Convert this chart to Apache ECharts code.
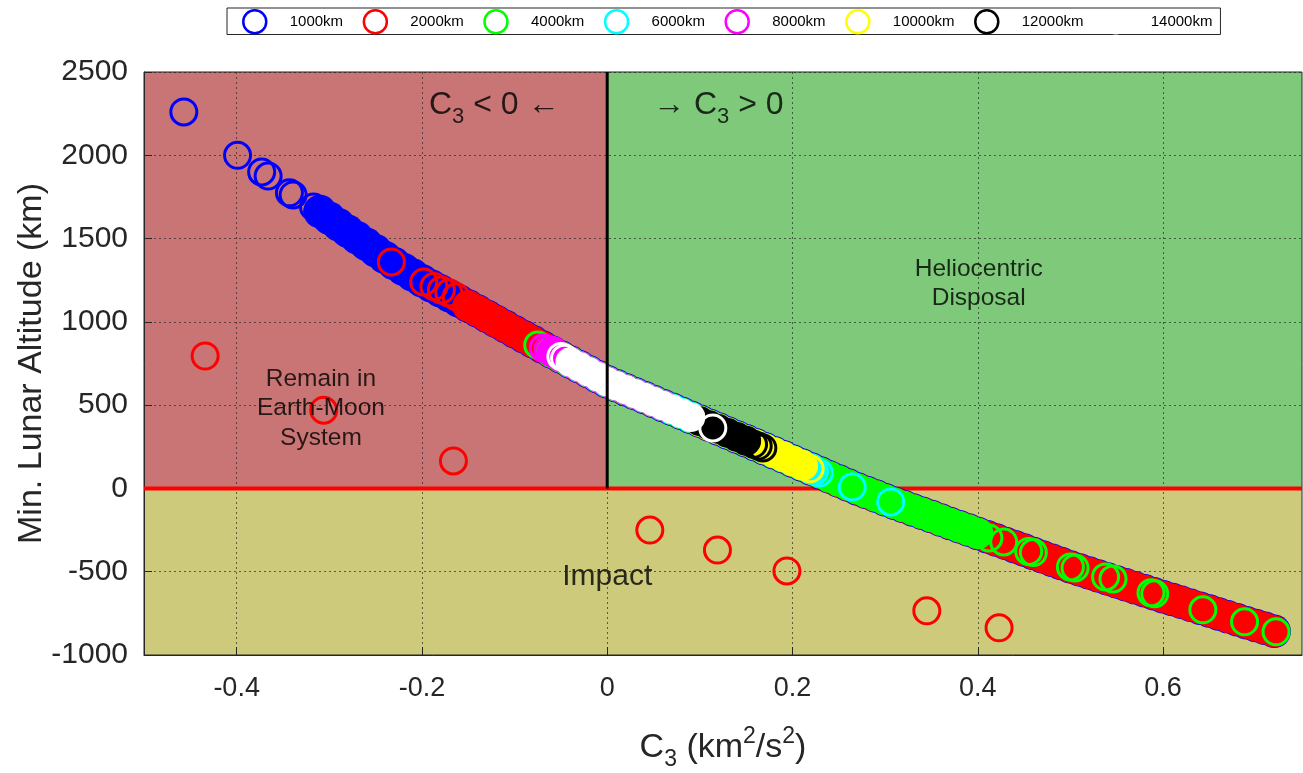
<!DOCTYPE html>
<html>
<head>
<meta charset="utf-8">
<script src="https://cdn.jsdelivr.net/npm/echarts@6/dist/echarts.min.js"></script>
<style>
  html, body { margin: 0; padding: 0; background: #ffffff; }
  #chart { width: 1303px; height: 773px; }
</style>
</head>
<body>
<div id="chart"></div>
<script>
// ---- axis ticks -------------------------------------------------------
const xTicks = [-0.4, -0.2, 0, 0.2, 0.4, 0.6];
const yTicks = [-1000, -500, 0, 500, 1000, 1500, 2000, 2500];

// ---- groups (initial Earth-orbit altitude) ----------------------------
const groupNames = ['1000km', '2000km', '4000km', '6000km', '8000km', '10000km', '12000km', '14000km'];
const groupColors = ['#0000ff', '#ff0000', '#00ff00', '#00ffff', '#ff00ff', '#ffff00', '#000000', '#ffffff'];

// Centre of the dense band of solutions: [C3 (km^2/s^2), min. lunar altitude (km)]
const bandTrack = [
  [-0.31, 1662], [-0.30, 1622], [-0.29, 1583], [-0.28, 1544], [-0.27, 1505], [-0.26, 1466],
  [-0.25, 1427], [-0.24, 1387], [-0.23, 1350], [-0.22, 1315], [-0.21, 1281], [-0.20, 1247],
  [-0.19, 1216], [-0.18, 1186], [-0.17, 1156], [-0.16, 1125], [-0.15, 1095], [-0.14, 1065],
  [-0.13, 1034], [-0.12, 1003], [-0.11, 972], [-0.10, 941], [-0.09, 911], [-0.08, 880],
  [-0.07, 849], [-0.06, 819], [-0.05, 789], [-0.04, 759], [-0.03, 730], [-0.02, 700],
  [-0.01, 670], [0.00, 640], [0.01, 616], [0.02, 593], [0.03, 569], [0.04, 546],
  [0.05, 522], [0.06, 498], [0.07, 475], [0.08, 451], [0.09, 427], [0.10, 404],
  [0.11, 380], [0.12, 357], [0.13, 333], [0.14, 309], [0.15, 286], [0.16, 262],
  [0.17, 238], [0.18, 214], [0.19, 190], [0.20, 165], [0.21, 141], [0.22, 117],
  [0.23, 93], [0.24, 68], [0.25, 44], [0.26, 20], [0.27, -3], [0.28, -25],
  [0.29, -46], [0.30, -68], [0.31, -89], [0.32, -109], [0.33, -129], [0.34, -149],
  [0.35, -169], [0.36, -190], [0.37, -210], [0.38, -230], [0.39, -250], [0.40, -270],
  [0.41, -290], [0.42, -310], [0.43, -330], [0.44, -350], [0.45, -370], [0.46, -391],
  [0.47, -411], [0.48, -431], [0.49, -451], [0.50, -471], [0.51, -489], [0.52, -507],
  [0.53, -525], [0.54, -543], [0.55, -561], [0.56, -579], [0.57, -597], [0.58, -614],
  [0.59, -632], [0.60, -650], [0.61, -667], [0.62, -684], [0.63, -702], [0.64, -719],
  [0.65, -736], [0.66, -754], [0.67, -771], [0.68, -788], [0.69, -806], [0.70, -823],
  [0.71, -840], [0.72, -858]
];

// C3 range over which each group's solutions pack densely along the band
const span1000 = [-0.31, 0.72];
const span2000 = [-0.15, 0.72];
const span4000 = [-0.065, 0.40];
const span6000 = [-0.04, 0.225];
const span8000 = [-0.062, 0.06];
const span10000 = [0.10, 0.215];
const span12000 = [0.097, 0.15];
const span14000 = [-0.045, 0.097];

// Individually distinguishable solutions: [C3, min. lunar altitude]
const rings1000 = [[-0.457, 2260], [-0.399, 2000], [-0.373, 1900], [-0.366, 1875], [-0.343, 1775],
  [-0.339, 1762], [-0.317, 1689], [-0.312, 1668]];
const rings2000 = [[-0.233, 1360], [-0.198, 1240], [-0.187, 1212], [-0.179, 1192], [-0.171, 1174],
  [-0.163, 1150], [-0.140, 1071], [-0.134, 1053],
  [-0.434, 795], [-0.306, 470], [-0.166, 165], [0.046, -250], [0.119, -370], [0.194, -495],
  [0.345, -735], [0.423, -837]];
const rings4000 = [[-0.075, 861], [0.205, 148], [0.38, -231], [0.398, -261], [0.412, -297], [0.428, -321],
  [0.455, -378], [0.46, -385], [0.50, -471], [0.505, -477], [0.538, -531], [0.546, -543],
  [0.587, -627], [0.591, -633], [0.643, -729], [0.688, -801], [0.722, -861]];
const rings6000 = [[0.224, 102], [0.229, 93], [0.2645, 9], [0.306, -81]];
const rings8000 = [[-0.069, 843], [-0.064, 836], [-0.058, 826]];
const rings10000 = [[0.212, 135], [0.219, 118]];
const rings12000 = [[0.158, 265], [0.163, 254], [0.168, 243]];
const rings14000 = [[-0.050, 792], [-0.046, 782], [0.114, 363]];

// ---- regions and boundaries --------------------------------------------
const regionBoxes = [[-0.5, 0, 0, 2500], [0, 0.75, 0, 2500], [-0.5, 0.75, -1000, 0]]; // [x0, x1, y0, y1]
const regionFills = ['#c97575', '#7eca7a', '#cdca7c'];
const impactLine = [[-0.5, 0], [0.75, 0]];
const c3ZeroLine = [[0, 0], [0, 2500]];

// ---- annotations --------------------------------------------------------
const noteTexts = ['{c|C}{s|3}{c| < 0 \u2190}', '{c|\u2192 C}{s|3}{c| > 0}',
  'Heliocentric\nDisposal', 'Remain in\nEarth-Moon\nSystem', 'Impact'];
const notePos = [[-0.122, 2300], [0.12, 2300], [0.401, 1230], [-0.309, 480], [0.0, -530]];

// ------------------------------------------------------------------------
const spans = [span1000, span2000, span4000, span6000, span8000, span10000, span12000, span14000];
const rings = [rings1000, rings2000, rings4000, rings6000, rings8000, rings10000, rings12000, rings14000];
const bandSizes = [33.5, 32, 31.5, 31, 30.5, 30.5, 30, 29.5];
const textFont = 'Liberation Sans, Arial, sans-serif';

const series = [];

// coloured background regions
series.push({
  type: 'custom', z: -5, silent: true,
  data: regionBoxes,
  renderItem: function (params, api) {
    const b = regionBoxes[params.dataIndex];
    const p0 = api.coord([b[0], b[3]]);
    const p1 = api.coord([b[1], b[2]]);
    return { type: 'rect', shape: { x: p0[0], y: p0[1], width: p1[0] - p0[0], height: p1[1] - p0[1] },
      style: { fill: regionFills[params.dataIndex] } };
  }
});

series.push({
  type: 'line', data: impactLine, symbol: 'none', silent: true, z: 1,
  lineStyle: { color: '#ff0000', width: 4 }
});

groupNames.forEach(function (name, i) {
  const sp = spans[i];
  series.push({
    name: name, type: 'scatter', symbol: 'circle', symbolSize: bandSizes[i], silent: true,
    itemStyle: { color: groupColors[i], opacity: 1 },
    data: bandTrack.filter(function (p) { return p[0] >= sp[0] - 1e-9 && p[0] <= sp[1] + 1e-9; })
  });
  series.push({
    name: name, type: 'scatter', symbol: 'circle', symbolSize: 26, silent: true,
    itemStyle: { color: 'rgba(0,0,0,0)', borderColor: groupColors[i], borderWidth: 3, opacity: 1 },
    data: rings[i]
  });
});

series.push({
  type: 'line', data: c3ZeroLine, symbol: 'none', silent: true, z: 3,
  lineStyle: { color: '#000000', width: 3 }
});

series.push({
  type: 'scatter', silent: true, symbolSize: 1, z: 4,
  itemStyle: { color: 'rgba(0,0,0,0)' },
  data: notePos.map(function (p, i) {
    return {
      value: p,
      label: {
        show: true, position: 'inside', formatter: noteTexts[i],
        fontFamily: textFont,
        fontSize: i === 4 ? 30 : 24.5, lineHeight: 29.5, color: '#000',
        rich: {
          c: { fontSize: 32, lineHeight: 46, color: '#000', fontFamily: textFont },
          s: { fontSize: 22, lineHeight: 21, verticalAlign: 'bottom', color: '#000', fontFamily: textFont }
        }
      }
    };
  })
});

const chart = echarts.init(document.getElementById('chart'), null, { renderer: 'canvas' });
chart.setOption({
  animation: false,
  backgroundColor: '#ffffff',
  grid: { left: 144, right: 1, top: 72, bottom: 118, outerBoundsMode: 'none', containLabel: false,
    show: true, borderColor: '#262626', borderWidth: 1, backgroundColor: 'transparent' },
  legend: {
    left: 227, top: 8, orient: 'horizontal', selectedMode: false,
    itemWidth: 30, itemHeight: 23, itemGap: 19.5,
    padding: [1, 8, 0, 15],
    borderColor: '#262626', borderWidth: 1, backgroundColor: '#ffffff',
    textStyle: { fontSize: 15, color: '#000', fontFamily: textFont, width: 60, padding: [0, 0, 0, 15] },
    data: groupNames.map(function (n, i) {
      return { name: n, icon: 'circle', itemStyle: { color: 'rgba(0,0,0,0)', borderColor: groupColors[i], borderWidth: 2.5 } };
    })
  },
  xAxis: {
    type: 'value', min: -0.5, max: 0.75,
    name: '{c|C}{s|3}{c| (km}{p|2}{c|/s}{p|2}{c|)}',
    nameLocation: 'middle', nameGap: 70, nameMoveOverlap: false,
    nameTextStyle: {
      rich: {
        c: { fontSize: 34, lineHeight: 46, color: '#262626', fontFamily: textFont },
        s: { fontSize: 23, lineHeight: 21, verticalAlign: 'bottom', color: '#262626', fontFamily: textFont },
        p: { fontSize: 23, lineHeight: 21, verticalAlign: 'top', color: '#262626', fontFamily: textFont }
      }
    },
    axisLine: { show: true, onZero: false, lineStyle: { color: '#262626', width: 1 } },
    axisTick: { show: true, inside: true, length: 8, customValues: xTicks, lineStyle: { color: '#262626' } },
    axisLabel: { customValues: xTicks, fontSize: 27, color: '#262626', margin: 20, fontFamily: textFont,
      formatter: function (v) { return String(Math.round(v * 10) / 10); } },
    splitLine: { show: true, lineStyle: { color: 'rgba(30,30,30,0.65)', type: [2, 3], width: 1 } }
  },
  yAxis: {
    type: 'value', min: -1000, max: 2500, interval: 500,
    name: 'Min. Lunar Altitude (km)', nameLocation: 'middle', nameGap: 95, nameRotate: 90,
    nameMoveOverlap: false,
    nameTextStyle: { fontSize: 34, color: '#262626', fontFamily: textFont },
    axisLine: { show: true, onZero: false, lineStyle: { color: '#262626', width: 1 } },
    axisTick: { show: true, inside: true, length: 8, lineStyle: { color: '#262626' } },
    axisLabel: { fontSize: 30, color: '#262626', margin: 16, fontFamily: textFont,
      formatter: function (v) { return String(v); } },
    splitLine: { show: true, lineStyle: { color: 'rgba(30,30,30,0.65)', type: [2, 3], width: 1 } }
  },
  series: series
});
</script>
</body>
</html>
